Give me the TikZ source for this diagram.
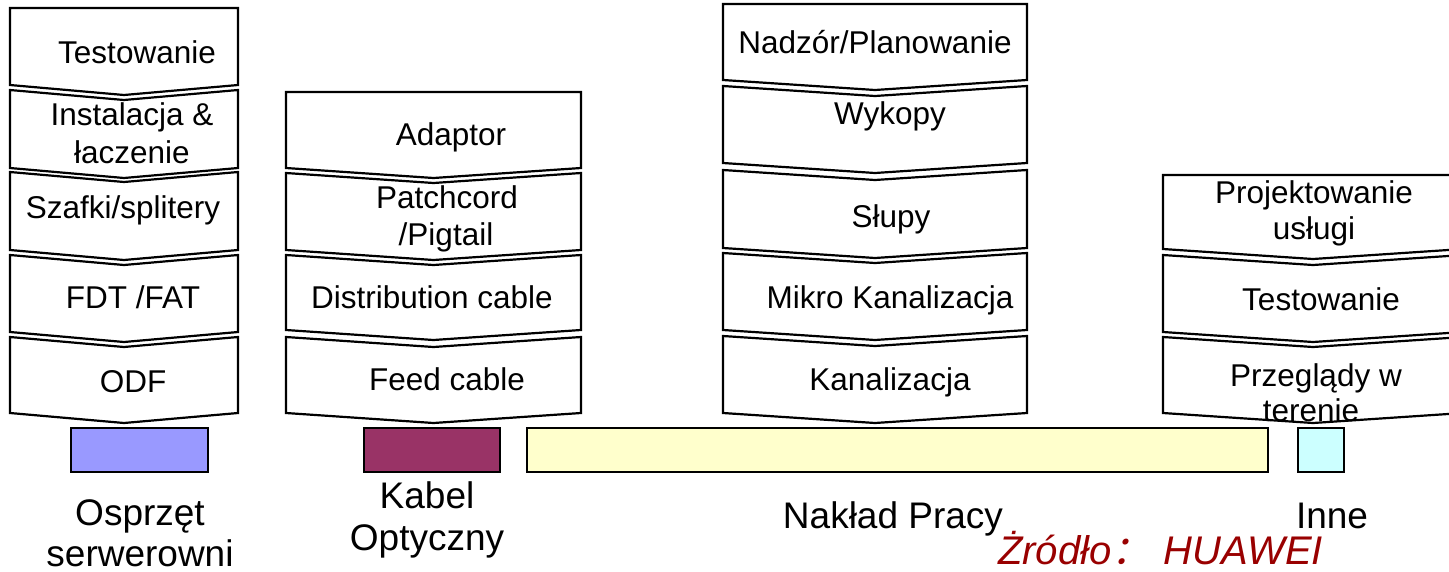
\documentclass[tikz,border=0pt]{standalone}
\usepackage{fontspec}
\setmainfont{Liberation Sans}
\newfontfamily\cjkfont[FakeSlant=0.2]{Noto Sans CJK SC}
\definecolor{boxpurple}{HTML}{9999FF}
\definecolor{boxmaroon}{HTML}{993366}
\definecolor{boxyellow}{HTML}{FFFFCC}
\definecolor{boxcyan}{HTML}{CCFFFF}
\definecolor{srcred}{HTML}{990000}
\tikzset{
  chevbox/.style={draw=black, line width=2.2pt, fill=white, line join=miter},
  legbox/.style={draw=black, line width=2.2pt},
  lbl/.style={anchor=base, inner sep=0pt, font=\fontsize{31.5}{37}\selectfont},
  leglbl/.style={anchor=base, inner sep=0pt, font=\fontsize{37}{42}\selectfont},
}
% #1 left, #2 right, #3 top at sides, #4 top at centre, #5 bottom at sides, #6 tip
\newcommand{\chevshape}[6]{%
  \draw[chevbox] (#1,#3) -- ({(#1+#2)/2},#4) -- (#2,#3) -- (#2,#5)
    -- ({(#1+#2)/2},#6) -- (#1,#5) -- cycle;}
\begin{document}
\begin{tikzpicture}[x=1pt,y=-1pt]
\useasboundingbox (0,0) rectangle (1449,571);
\clip (0,0) rectangle (1449,571);
% column 1
\chevshape{10}{238}{8}{8}{85}{95}
\chevshape{10}{238}{90}{100}{168}{178}
\chevshape{10}{238}{172}{182}{250}{260}
\chevshape{10}{238}{255}{265}{332}{342}
\chevshape{10}{238}{337}{347}{413}{423}
% column 2
\chevshape{286}{581}{92}{92}{168}{178}
\chevshape{286}{581}{173}{183}{250}{260}
\chevshape{286}{581}{255}{265}{330}{340}
\chevshape{286}{581}{337}{347}{413}{423}
% column 3
\chevshape{723}{1027}{4}{4}{80}{90}
\chevshape{723}{1027}{86}{96}{163}{173}
\chevshape{723}{1027}{170}{180}{248}{258}
\chevshape{723}{1027}{253}{263}{330}{340}
\chevshape{723}{1027}{336}{346}{413}{423}
% column 4
\chevshape{1163}{1463}{175}{175}{249}{259}
\chevshape{1163}{1463}{255}{265}{332}{342}
\chevshape{1163}{1463}{337}{347}{413}{423}
% box labels column 1
\node[lbl] (c1a) at (137,63) {Testowanie};
\node[lbl] (c1b) at (132,125) {Instalacja \&};
\node[lbl] (c1c) at (132,163) {łaczenie};
\node[lbl] (c1d) at (123,218) {Szafki/splitery};
\node[lbl] (c1e) at (133,308) {FDT /FAT};
\node[lbl] (c1f) at (133,392) {ODF};
% column 2
\node[lbl] (c2a) at (451,145) {Adaptor};
\node[lbl] (c2b) at (447,208) {Patchcord};
\node[lbl] (c2c) at (446,245) {/Pigtail};
\node[lbl] (c2d) at (432,308) {Distribution cable};
\node[lbl] (c2e) at (447,390) {Feed cable};
% column 3
\node[lbl] (c3a) at (875,53) {Nadzór/Planowanie};
\node[lbl] (c3b) at (890,124) {Wykopy};
\node[lbl] (c3c) at (891,227) {Słupy};
\node[lbl] (c3d) at (890,308) {Mikro Kanalizacja};
\node[lbl] (c3e) at (890,390) {Kanalizacja};
% column 4
\node[lbl] (c4a) at (1314,203) {Projektowanie};
\node[lbl] (c4b) at (1314,239) {usługi};
\node[lbl] (c4c) at (1321,310) {Testowanie};
\node[lbl] (c4d) at (1316,386) {Przeglądy w};
\node[lbl] (c4e) at (1311,421) {terenie};
% legend boxes
\draw[legbox, fill=boxpurple] (71,428) rectangle (208,472);
\draw[legbox, fill=boxmaroon] (364,428) rectangle (500,472);
\draw[legbox, fill=boxyellow] (527,428) rectangle (1268,472);
\draw[legbox, fill=boxcyan] (1298,428) rectangle (1344,472);
% legend labels
\node[leglbl] (l1a) at (140,525) {Osprzęt};
\node[leglbl] (l1b) at (140,566) {serwerowni};
\node[leglbl] (l2a) at (427,508) {Kabel};
\node[leglbl] (l2b) at (427,550) {Optyczny};
\node[leglbl] (l3) at (893,528) {Nakład Pracy};
\node[leglbl] (l4) at (1332,528) {Inne};
% source
\node[anchor=base west, inner sep=0pt, text=srcred, font=\fontsize{40}{44}\selectfont\itshape] (src) at (998,564) {Żródło{\cjkfont ：}\hspace{12pt}HUAWEI};
\end{tikzpicture}
\end{document}
